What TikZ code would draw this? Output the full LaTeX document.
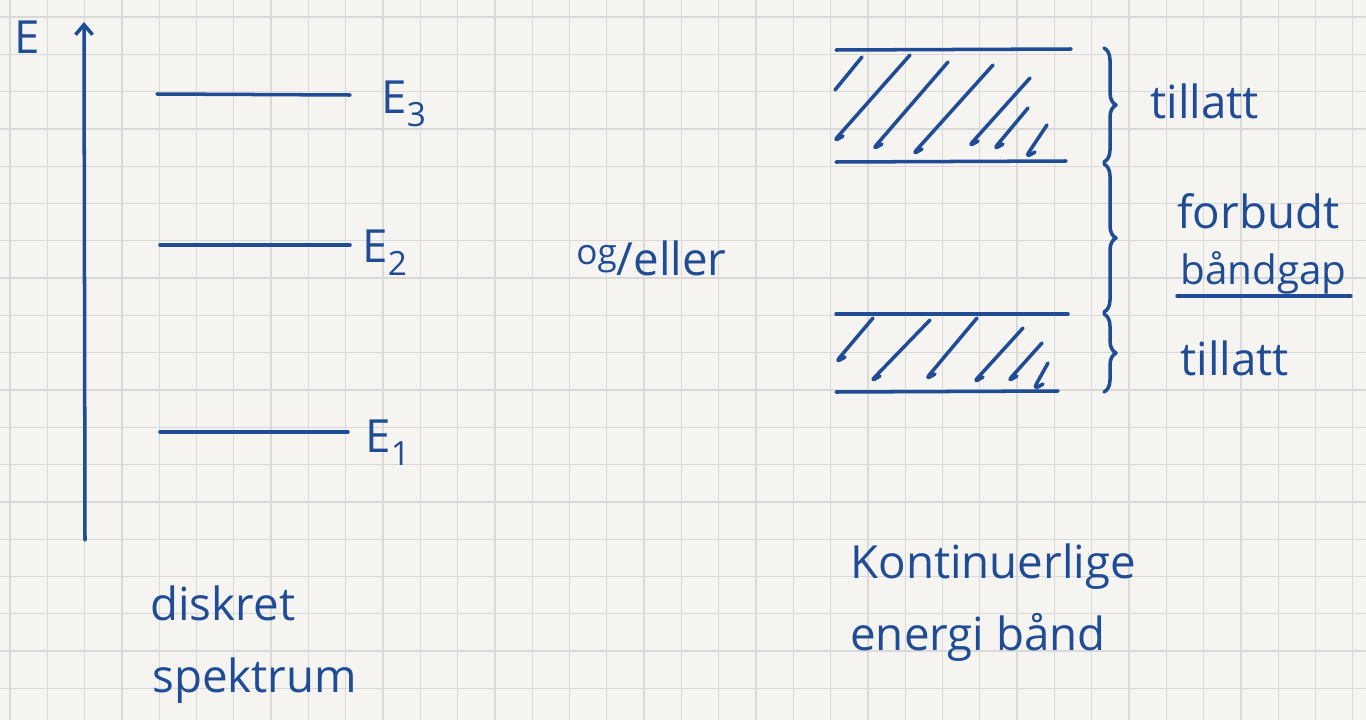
\documentclass[tikz,border=0pt]{standalone}
\usepackage{fontspec}
\setmainfont{Open Sans}
\usepackage{xcolor}
\usetikzlibrary{arrows.meta, decorations.pathreplacing, positioning}
\definecolor{inkblue}{HTML}{1F4C94}
\definecolor{paper}{HTML}{F5F4F1}
\newcommand{\lvl}[1]{\raisebox{-0.55ex}{\fontsize{19}{21}\selectfont #1}}

\begin{document}
\begin{tikzpicture}[
    x=0.02cm, y=-0.02cm,
    every node/.style={font=\fontsize{26}{30}\selectfont, text=inkblue, inner sep=0pt},
    ink/.style={draw=inkblue, line width=2pt, line cap=round, line join=round},
    hatch/.style={ink, line width=2pt, rounded corners=4pt},
    gbrace/.style={ink, decorate, decoration={brace, amplitude=0.24cm}},
    lab/.style={anchor=base west},
    gridline/.style={draw=black!15, line width=0.7pt}
]

\useasboundingbox (0,0) rectangle (1366,720);
\fill[paper] (0,0) rectangle (1366,720);

% paper grid
\foreach \k in {0,...,36}
    \draw[gridline] ({10+37.3*\k},0) -- ({10+37.3*\k},720);
\foreach \k in {0,...,18}
    \draw[gridline] (0,{17+37.3*\k}) -- (1366,{17+37.3*\k});

% energy axis
\coordinate (axbot) at (85,540);
\coordinate (axtop) at (84,22);
\draw[ink, -{Straight Barb[length=0.2cm, width=0.34cm]}] (axbot) -- (axtop);
\node (elabel) [lab] at (14,53) {E};

% discrete levels
\draw[ink] (157,94) -- (350,95);
\draw[ink] (160,245) -- (350,245);
\draw[ink] (160,432) -- (348,432);
\node (ethree) [lab] at (381,113) {E\lvl{3}};
\node (etwo)   [lab] at (362,262) {E\lvl{2}};
\node (eone)   [lab] at (365,452) {E\lvl{1}};

\node (diskret) [lab] at (150,620) {diskret};
\node (spektrum) [lab] at (152,692) {spektrum};

\node (ogeller) [lab] at (576,275) {\raisebox{0.45ex}{\fontsize{20}{22}\selectfont og}/eller};

% bands
\draw[ink] (836,50) -- (1071,49);
\draw[ink] (836,162) -- (1066,161);
\draw[ink] (836,314) -- (1068,314);
\draw[ink] (836,392) -- (1058,391);

\foreach \tx/\ty/\bx/\by in {910/55/833/142, 948/62/872/150,
        993/65/912/155, 1030/78/968/147, 1028/108/993/150, 1047/125/1025/158,
        873/318/835/363, 930/320/870/382, 977/318/925/380, 1023/328/973/383,
        1042/343/1007/382, 1048/363/1033/390}
    \draw[hatch] (\tx,\ty) -- (\bx,\by) -- ++(10,-6);
\draw[hatch] (862,57) -- (835,90);

\draw[gbrace] (1104,48) -- (1104,162);
\draw[gbrace] (1104,164) -- (1104,312);
\draw[gbrace] (1104,314) -- (1104,392);

\node (tillatttop) [lab] at (1150,118) {tillatt};
\node (forbudt)    [lab] at (1177,228) {forbudt};
\node (bandgap)    [lab, font=\fontsize{23}{27}\selectfont] at (1180,284) {båndgap};
\node (tillattbot) [lab] at (1180,375) {tillatt};
\draw[ink] ([xshift=-0.06cm, yshift=-0.24cm]bandgap.base west) -- ([xshift=0.08cm, yshift=-0.24cm]bandgap.base east);

\node (kont)   [lab] at (850,578) {Kontinuerlige};
\node (energi) [lab] at (850,650) {energi bånd};

\end{tikzpicture}
\end{document}
